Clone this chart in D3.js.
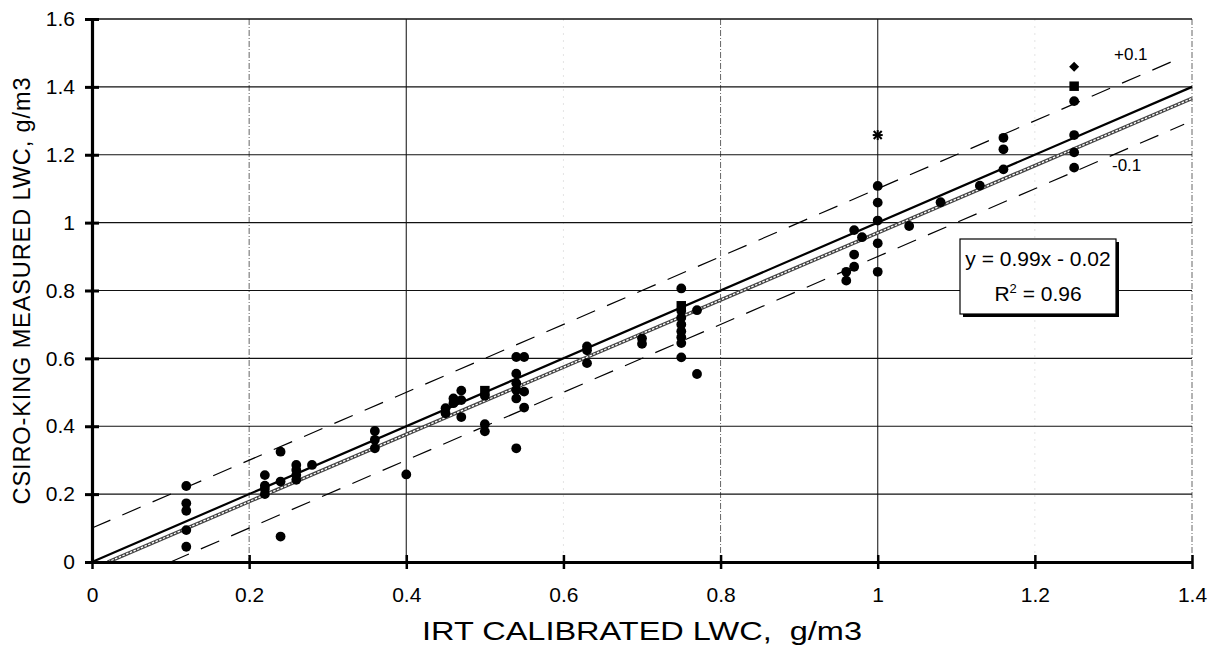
<!DOCTYPE html>
<html>
<head>
<meta charset="utf-8">
<script src="https://cdn.jsdelivr.net/npm/d3@7"></script>
<style>
  html, body { margin: 0; padding: 0; background: #fff; }
  svg { display: block; }
  text { font-family: "Liberation Sans", Arial, sans-serif; fill: #000; }
</style>
</head>
<body>
<svg id="chart" width="1212" height="647"></svg>
<script>
// ---------- data ----------
const xTicks = [0, 0.2, 0.4, 0.6, 0.8, 1, 1.2, 1.4];
const yTicks = [0, 0.2, 0.4, 0.6, 0.8, 1, 1.2, 1.4, 1.6];
const xTickLabels = ["0", "0.2", "0.4", "0.6", "0.8", "1", "1.2", "1.4"];
const yTickLabels = ["0", "0.2", "0.4", "0.6", "0.8", "1", "1.2", "1.4", "1.6"];

// filled-circle observations (IRT calibrated, CSIRO-King measured)
const circleX = [
  0.12, 0.12, 0.12, 0.12, 0.12,
  0.22, 0.22, 0.22, 0.22,
  0.24, 0.24, 0.24,
  0.26, 0.26, 0.26, 0.26,
  0.28,
  0.36, 0.36, 0.36,
  0.40,
  0.45, 0.45,
  0.46, 0.46,
  0.47, 0.47, 0.47,
  0.50, 0.50, 0.50,
  0.54, 0.54, 0.54, 0.54, 0.54, 0.54,
  0.55, 0.55, 0.55,
  0.63, 0.63, 0.63,
  0.70, 0.70,
  0.75, 0.75, 0.75, 0.75, 0.75, 0.75, 0.75, 0.75,
  0.77, 0.77,
  0.96, 0.96,
  0.97, 0.97, 0.97,
  0.98,
  1.00, 1.00, 1.00, 1.00, 1.00,
  1.04, 1.08, 1.13,
  1.16, 1.16, 1.16,
  1.25, 1.25, 1.25, 1.25
];
const circleY = [
  0.224, 0.173, 0.151, 0.094, 0.045,
  0.256, 0.225, 0.215, 0.200,
  0.325, 0.237, 0.075,
  0.286, 0.271, 0.256, 0.242,
  0.286,
  0.386, 0.360, 0.335,
  0.258,
  0.453, 0.438,
  0.482, 0.468,
  0.505, 0.477, 0.427,
  0.490, 0.406, 0.385,
  0.604, 0.555, 0.527, 0.507, 0.482, 0.335,
  0.604, 0.502, 0.455,
  0.635, 0.624, 0.586,
  0.659, 0.643,
  0.806, 0.740, 0.720, 0.700, 0.680, 0.662, 0.645, 0.603,
  0.742, 0.554,
  0.855, 0.829,
  0.978, 0.906, 0.870,
  0.957,
  1.108, 1.059, 1.006, 0.939, 0.855,
  0.990, 1.060, 1.109,
  1.250, 1.216, 1.157,
  1.358, 1.258, 1.207, 1.162
];
// other marker series
const squareX = [0.50, 0.75, 1.25];
const squareY = [0.505, 0.755, 1.402];
const diamondX = [1.25];
const diamondY = [1.459];
const starX = [1.00];
const starY = [1.258];

// reference lines and fit
const oneToOne = [[0, 0], [1.4, 1.4]];
const upperBand = [[0, 0.1], [1.385, 1.485]];
const lowerBand = [[0.1, 0], [1.39, 1.29]];
const fitSlope = 0.99, fitIntercept = -0.02;
const fitRange = [0.02, 1.4];
const eqLine1 = "y = 0.99x - 0.02";
const eqR2 = "0.96";
const xTitle = "IRT CALIBRATED LWC,  g/m3";
const yTitle = "CSIRO-KING MEASURED LWC, g/m3";

// ---------- layout ----------
const svg = d3.select("#chart");
const padL = 92, padR = 1192, padT = 19, padB = 562;
const x = d3.scaleLinear().domain([0, 1.4]).range([padL, padR]);
const y = d3.scaleLinear().domain([0, 1.6]).range([padB, padT]);

// vertical grid styles (scanned original shows mixed styles)
const vStyle = {
  0.2: {dash: "6,2,1,2", color: "#666", w: 1},
  0.4: {dash: null, color: "#333", w: 1.2},
  0.6: {dash: "2,5", color: "#ddd", w: 0.8},
  0.8: {dash: "6,2,1,2", color: "#666", w: 1},
  1:   {dash: null, color: "#333", w: 1.2},
  1.2: {dash: "2,5", color: "#ddd", w: 0.8},
  1.4: {dash: "6,2,1,2", color: "#666", w: 1}
};
const grid = svg.append("g");
xTicks.filter(d => d > 0).forEach(d => {
  const s = vStyle[d];
  grid.append("line")
    .attr("x1", x(d)).attr("x2", x(d)).attr("y1", y(1.6)).attr("y2", y(0))
    .attr("stroke", s.color).attr("stroke-width", s.w)
    .attr("stroke-dasharray", s.dash);
});
yTicks.filter(d => d > 0).forEach(d => {
  grid.append("line")
    .attr("x1", x(0)).attr("x2", x(1.4)).attr("y1", y(d)).attr("y2", y(d))
    .attr("stroke", "#111").attr("stroke-width", d === 1.6 ? 1.6 : 1.2);
});

// reference lines
const line = d3.line().x(d => x(d[0])).y(d => y(d[1]));
svg.append("path").attr("d", line(upperBand)).attr("fill", "none")
  .attr("stroke", "#000").attr("stroke-width", 1.2).attr("stroke-dasharray", "20,13");
svg.append("path").attr("d", line(lowerBand)).attr("fill", "none")
  .attr("stroke", "#000").attr("stroke-width", 1.2).attr("stroke-dasharray", "20,13");
svg.append("path").attr("d", line(oneToOne)).attr("fill", "none")
  .attr("stroke", "#000").attr("stroke-width", 2.2);

// regression line (patterned grey)
const fitPts = fitRange.map(v => [v, fitSlope * v + fitIntercept]);
svg.append("path").attr("d", line(fitPts)).attr("fill", "none")
  .attr("stroke", "#444").attr("stroke-width", 3.6);
svg.append("path").attr("d", line(fitPts)).attr("fill", "none")
  .attr("stroke", "#fff").attr("stroke-width", 1.3).attr("stroke-dasharray", "2.5,1.5");

// points
const pts = svg.append("g");
circleX.forEach((d, i) => {
  pts.append("circle").attr("cx", x(d)).attr("cy", y(circleY[i])).attr("r", 4.9).attr("fill", "#000");
});
squareX.forEach((d, i) => {
  pts.append("path").attr("transform", `translate(${x(d)},${y(squareY[i])})`)
    .attr("d", d3.symbol(d3.symbolSquare, 90)()).attr("fill", "#000");
});
diamondX.forEach((d, i) => {
  pts.append("path").attr("transform", `translate(${x(d)},${y(diamondY[i])}) rotate(45)`)
    .attr("d", d3.symbol(d3.symbolSquare, 50)()).attr("fill", "#000");
});
starX.forEach((d, i) => {
  const g = pts.append("g").attr("transform", `translate(${x(d)},${y(starY[i])})`);
  [[-5,0,5,0],[0,-5,0,5],[-4,-4,4,4],[-4,4,4,-4]].forEach(s =>
    g.append("line").attr("x1", s[0]).attr("y1", s[1]).attr("x2", s[2]).attr("y2", s[3])
      .attr("stroke", "#000").attr("stroke-width", 2));
});

// axes
const xAxis = d3.axisBottom(x).tickValues(xTicks).tickFormat((d, i) => xTickLabels[i])
  .tickSizeInner(6).tickSizeOuter(0).tickPadding(19);
const gx = svg.append("g").attr("transform", `translate(0,${y(0)})`).call(xAxis);
gx.attr("font-size", 21).attr("font-family", "Liberation Sans, Arial, sans-serif");
gx.select(".domain").attr("stroke", "#000").attr("stroke-width", 3.2);
gx.selectAll(".tick line").attr("stroke", "#000").attr("stroke-width", 2.5).attr("y1", -7).attr("y2", 7);

const yAxis = d3.axisLeft(y).tickValues(yTicks).tickFormat((d, i) => yTickLabels[i])
  .tickSizeInner(6).tickSizeOuter(0).tickPadding(11);
const gy = svg.append("g").attr("transform", `translate(${x(0)},0)`).call(yAxis);
gy.attr("font-size", 21).attr("font-family", "Liberation Sans, Arial, sans-serif");
gy.select(".domain").attr("stroke", "#000").attr("stroke-width", 3.2);
gy.selectAll(".tick line").attr("stroke", "#000").attr("stroke-width", 3).attr("x1", -7).attr("x2", 7);

// axis titles
svg.append("text").attr("x", 642).attr("y", 640).attr("text-anchor", "middle")
  .attr("font-size", 25).style("white-space", "pre")
  .attr("textLength", 440).attr("lengthAdjust", "spacingAndGlyphs")
  .text(xTitle);
svg.append("text").attr("transform", "translate(30,291) rotate(-90)").attr("text-anchor", "middle")
  .attr("font-size", 23.5).attr("textLength", 427).attr("lengthAdjust", "spacing")
  .text(yTitle);

// band labels
svg.append("text").attr("x", 1114).attr("y", 60).attr("font-size", 17).text("+0.1");
svg.append("text").attr("x", 1112).attr("y", 171).attr("font-size", 17).text("-0.1");

// equation box
const bx = 960, by = 239, bw = 156, bh = 75;
svg.append("rect").attr("x", bx + 3).attr("y", by + 3).attr("width", bw).attr("height", bh).attr("fill", "#000");
svg.append("rect").attr("x", bx).attr("y", by).attr("width", bw).attr("height", bh)
  .attr("fill", "#fff").attr("stroke", "#000").attr("stroke-width", 1.2);
svg.append("text").attr("x", bx + bw / 2).attr("y", 266).attr("text-anchor", "middle")
  .attr("font-size", 21).text(eqLine1);
const r2 = svg.append("text").attr("x", bx + bw / 2).attr("y", 301).attr("text-anchor", "middle")
  .attr("font-size", 21);
r2.append("tspan").text("R");
r2.append("tspan").attr("dy", -8).attr("font-size", 13).text("2");
r2.append("tspan").attr("dy", 8).text(" = " + eqR2);
</script>
</body>
</html>
